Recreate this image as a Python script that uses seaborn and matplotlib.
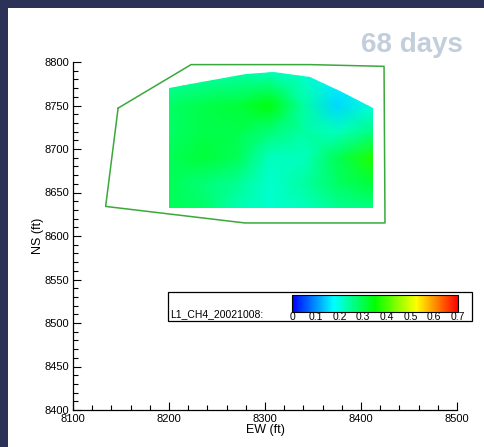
import numpy as np
import matplotlib
matplotlib.use("Agg")
import matplotlib.pyplot as plt
import seaborn as sns
from matplotlib.colors import LinearSegmentedColormap, Normalize
from matplotlib.patches import Rectangle, Polygon
from matplotlib.ticker import MultipleLocator

# grid nodes of the CH4 field (ft)
grid_ew = [8200, 8235, 8270, 8305, 8340, 8375, 8412]
grid_ns = [8632, 8660, 8690, 8720, 8750, 8790]
# CH4 values, rows = grid_ns (bottom to top)
ch4 = [
    [0.29, 0.28, 0.23, 0.21, 0.22, 0.25, 0.26],
    [0.29, 0.27, 0.25, 0.21, 0.24, 0.28, 0.31],
    [0.29, 0.31, 0.29, 0.22, 0.22, 0.29, 0.37],
    [0.28, 0.30, 0.30, 0.27, 0.24, 0.22, 0.26],
    [0.28, 0.30, 0.31, 0.34, 0.24, 0.15, 0.20],
    [0.23, 0.23, 0.23, 0.22, 0.21, 0.18, 0.20],
]
# outline of the interpolated area
field_ew = [8200, 8200, 8240, 8280, 8309, 8347, 8380, 8412, 8412]
field_ns = [8632, 8770, 8778, 8786, 8789, 8783, 8765, 8747, 8632]
# site boundary (green line)
site_ew = [8147, 8223, 8347, 8424, 8425, 8279, 8134, 8147]
site_ns = [8747, 8797, 8797, 8795, 8615, 8615, 8634, 8747]

cbar_ticks = [0, 0.1, 0.2, 0.3, 0.4, 0.5, 0.6, 0.7]

sns.set_theme(style="ticks")
plt.rcParams['font.family'] = ['Liberation Sans', 'DejaVu Sans']

W, H = 484, 447
fig = plt.figure(figsize=(W / 100, H / 100), dpi=100)
fig.patch.set_facecolor('#2b3157')
fig.patches.append(Rectangle((8 / W, 0), 1, (H - 8) / H, transform=fig.transFigure,
                             facecolor='white', edgecolor='none', zorder=-5))

ax = fig.add_axes([73 / W, 37 / H, 384 / W, 348 / H], zorder=1)
ax.set_facecolor('none')

cmap = LinearSegmentedColormap.from_list(
    'small_rainbow', ['#0000ff', '#00ffff', '#00ff00', '#ffff00', '#ff0000'])
norm = Normalize(0, 0.7)

mesh = ax.pcolormesh(grid_ew, grid_ns, np.array(ch4), shading='gouraud',
                     cmap=cmap, norm=norm, zorder=1)
clip = Polygon(np.column_stack([field_ew, field_ns]), closed=True,
               transform=ax.transData, facecolor='none', edgecolor='none')
ax.add_patch(clip)
mesh.set_clip_path(clip)

sns.lineplot(x=site_ew, y=site_ns, sort=False, estimator=None, ax=ax,
             color='#3aa83a', linewidth=1.1, zorder=2)

ax.set_xlim(8100, 8500)
ax.set_ylim(8400, 8800)
ax.xaxis.set_major_locator(MultipleLocator(100))
ax.xaxis.set_minor_locator(MultipleLocator(20))
ax.yaxis.set_major_locator(MultipleLocator(50))
ax.yaxis.set_minor_locator(MultipleLocator(10))
ax.tick_params(which='both', direction='in', color='black', width=0.8,
               labelsize=8, labelcolor='black')
ax.tick_params(which='major', length=6, pad=3)
ax.tick_params(which='minor', length=3.5)
for s in ['top', 'right']:
    ax.spines[s].set_visible(False)
for s in ['left', 'bottom']:
    ax.spines[s].set_color('black')
    ax.spines[s].set_linewidth(0.9)

ax.set_xlabel('EW (ft)', fontsize=9, labelpad=0, color='black')
ax.set_ylabel('NS (ft)', fontsize=9, color='black', va='center')
ax.yaxis.set_label_coords(-0.092, 0.5)

# legend box with colorbar
ax.add_patch(Rectangle((168 / W, (H - 321) / H), 304 / W, 29 / H,
                       transform=fig.transFigure, facecolor='white',
                       edgecolor='black', linewidth=0.9, zorder=5,
                       clip_on=False))
ax.text(170 / W, (H - 314) / H, 'L1_CH4_20021008:', fontsize=7.5,
        transform=fig.transFigure, va='center', ha='left', color='black',
        zorder=6)
cax = fig.add_axes([292 / W, (H - 311.5) / H, 166 / W, 16.5 / H], zorder=4)
cb = fig.colorbar(mesh, cax=cax, orientation='horizontal')
cb.set_ticks(cbar_ticks)
cb.set_ticklabels(['0' if t == 0 else f'{t:.1f}' for t in cbar_ticks])
cb.ax.tick_params(length=0, pad=0.5, labelsize=7.5, labelcolor='black')
cb.outline.set_edgecolor('black')
cb.outline.set_linewidth(0.8)

fig.text(463 / W, (H - 52) / H, '68 days', fontsize=20, fontweight='bold',
         color='#c2cedc', ha='right', va='baseline')

fig.savefig('out.png', dpi=100, facecolor=fig.get_facecolor())
